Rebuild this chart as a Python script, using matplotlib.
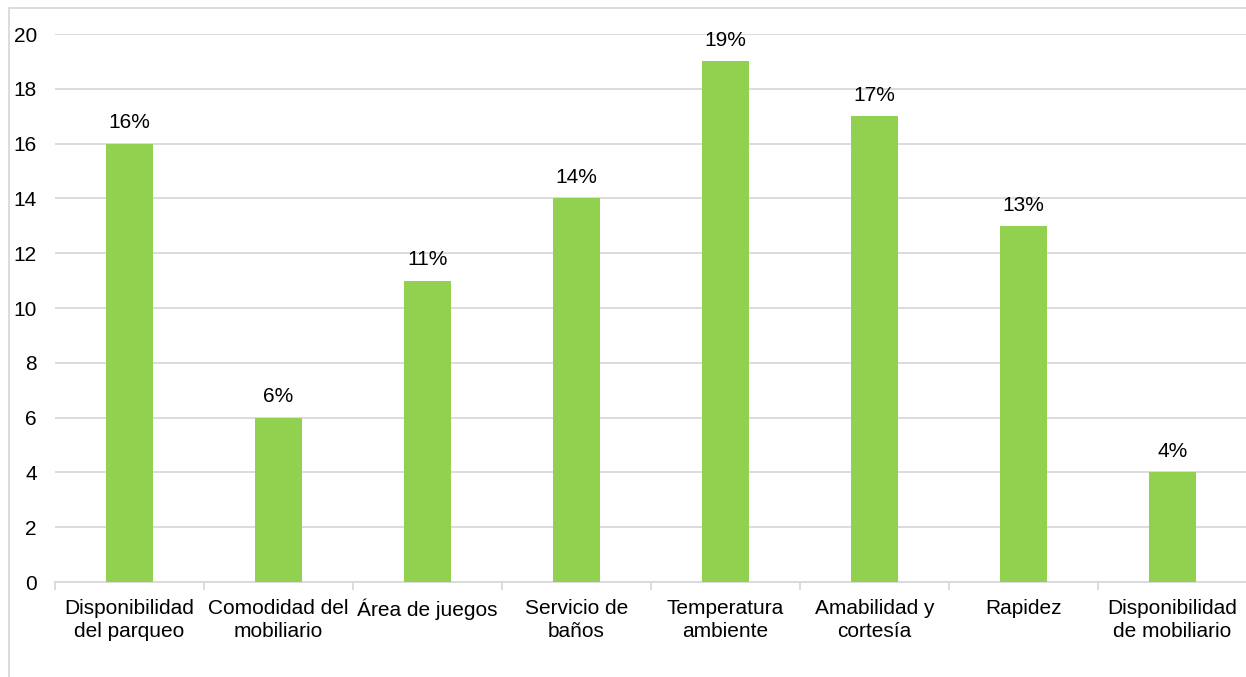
import matplotlib
matplotlib.use("Agg")
import matplotlib.pyplot as plt
from matplotlib.patches import Rectangle

categories = ["Disponibilidad\ndel parqueo", "Comodidad del\nmobiliario", "Área de juegos",
              "Servicio de\nbaños", "Temperatura\nambiente", "Amabilidad y\ncortesía",
              "Rapidez", "Disponibilidad\nde mobiliario"]
values = [16, 6, 11, 14, 19, 17, 13, 4]
labels = ["16%", "6%", "11%", "14%", "19%", "17%", "13%", "4%"]
yticks = [0, 2, 4, 6, 8, 10, 12, 14, 16, 18, 20]

plt.rcParams['font.family'] = ['Liberation Sans', 'DejaVu Sans']

W, H = 1246, 677
FS = 15
fig = plt.figure(figsize=(W/100, H/100), dpi=100)
ax = fig.add_axes([55/W, 1-582/H, 1192/W, (582-34)/H])

x = list(range(len(categories)))
bars = ax.bar(x, values, width=0.316, color="#92D050", zorder=3)
for b, lab in zip(bars, labels):
    ax.annotate(lab, (b.get_x()+b.get_width()/2, b.get_height()), xytext=(0, 8),
                textcoords="offset points", ha="center", va="bottom", fontsize=FS, color="#000000")

ax.set_xlim(-0.5, len(categories)-0.5)
ax.set_ylim(0, 20)
ax.set_yticks(yticks)
ax.tick_params(axis='y', length=0, labelsize=FS, pad=13, colors="#000000")
ax.yaxis.grid(True, color="#d9d9d9", linewidth=1.3, zorder=0)
ax.set_axisbelow(True)

ax.set_xticks(x)
ax.set_xticklabels(categories, fontsize=FS, linespacing=1.32)
ax.tick_params(axis='x', length=0, pad=12, colors="#000000")
ax.set_xticks([i-0.5 for i in range(len(categories)+1)], minor=True)
ax.tick_params(axis='x', which='minor', length=6, color="#d9d9d9", width=1.3)

for s in ['top', 'right', 'left']:
    ax.spines[s].set_visible(False)
ax.spines['bottom'].set_color("#d9d9d9")
ax.spines['bottom'].set_linewidth(1.3)

fig.patches.append(Rectangle((9/W, -0.1), 2, 1 - 8/H + 0.1, transform=fig.transFigure,
                             fill=False, edgecolor="#d9d9d9", linewidth=1.3))

fig.savefig("out.png", dpi=100)
